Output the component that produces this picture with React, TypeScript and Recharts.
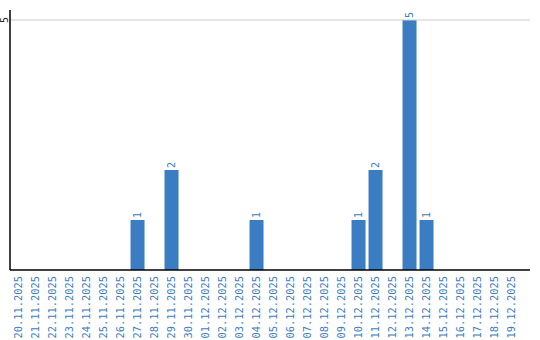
import React from "react";
import { BarChart, Bar, XAxis, YAxis, ReferenceLine, LabelList } from "recharts";

const dates = [
  "20.11.2025", "21.11.2025", "22.11.2025", "23.11.2025", "24.11.2025", "25.11.2025",
  "26.11.2025", "27.11.2025", "28.11.2025", "29.11.2025", "30.11.2025", "01.12.2025",
  "02.12.2025", "03.12.2025", "04.12.2025", "05.12.2025", "06.12.2025", "07.12.2025",
  "08.12.2025", "09.12.2025", "10.12.2025", "11.12.2025", "12.12.2025", "13.12.2025",
  "14.12.2025", "15.12.2025", "16.12.2025", "17.12.2025", "18.12.2025", "19.12.2025",
];
const counts = [0, 0, 0, 0, 0, 0, 0, 1, 0, 2, 0, 0, 0, 0, 1, 0, 0, 0, 0, 0, 1, 2, 0, 5, 1, 0, 0, 0, 0, 0];
const yTicks = [5];

const data = dates.map((d, i) => ({ date: d, value: counts[i] }));

const BLUE = "#3b7dc2";
const FONT = "'DejaVu Sans Mono', 'Liberation Mono', monospace";

const XTick = (props: any) => {
  const { x, y, payload } = props;
  return (
    <text
      x={0}
      y={0}
      transform={`translate(${x + 3.5},${y - 2}) rotate(-90)`}
      textAnchor="end"
      fill={BLUE}
      fontSize={10.4}
      fontFamily={FONT}
    >
      {payload.value}
    </text>
  );
};

const YTick = (props: any) => {
  const { y, payload } = props;
  return (
    <text
      x={0}
      y={0}
      transform={`translate(7.5,${y}) rotate(-90)`}
      textAnchor="middle"
      fill="#222"
      fontSize={10}
      fontFamily={FONT}
    >
      {payload.value}
    </text>
  );
};

const ValueLabel = (props: any) => {
  const { x, y, width, value } = props;
  if (!value) return null;
  const cx = x + width / 2;
  return (
    <text
      x={0}
      y={0}
      transform={`translate(${cx + 3.5},${y - 2}) rotate(-90)`}
      textAnchor="start"
      fill={BLUE}
      fontSize={10}
      fontFamily={FONT}
    >
      {value}
    </text>
  );
};

export default function App() {
  return (
    <div style={{ position: "absolute", left: 0, top: 0, width: 540, height: 340, background: "#fff" }}>
      <BarChart
        width={540}
        height={340}
        data={data}
        margin={{ top: 10, right: 10, bottom: 0, left: 0 }}
        barCategoryGap="9%"
      >
        <ReferenceLine y={5} stroke="#cccccc" strokeWidth={1} />
        <XAxis
          dataKey="date"
          interval={0}
          height={70}
          tickLine={false}
          axisLine={{ stroke: "#000", strokeWidth: 1.5 }}
          tick={<XTick />}
          padding={{ left: 0, right: 10 }}
        />
        <YAxis
          width={10}
          domain={[0, 5.2]}
          ticks={yTicks}
          tickLine={false}
          axisLine={{ stroke: "#000", strokeWidth: 1.5 }}
          tick={<YTick />}
        />
        <Bar dataKey="value" fill={BLUE} isAnimationActive={false}>
          <LabelList dataKey="value" content={<ValueLabel />} />
        </Bar>
      </BarChart>
    </div>
  );
}
